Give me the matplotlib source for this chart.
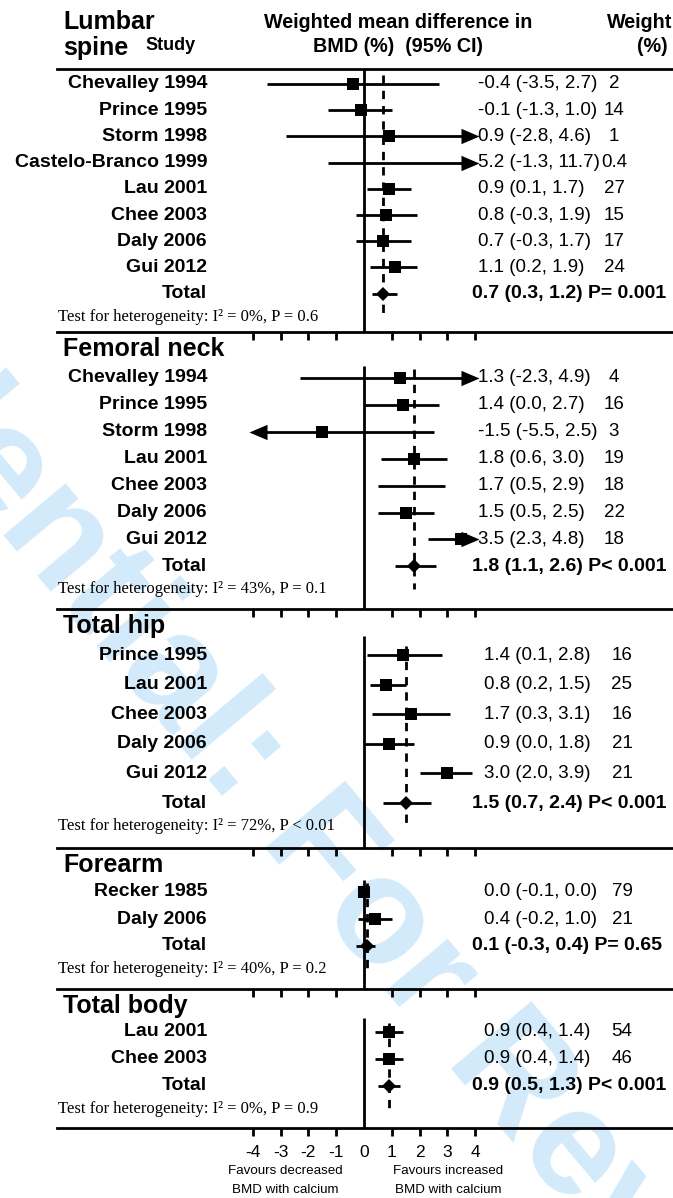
import matplotlib.pyplot as plt

# % BMD difference, 95% CI and weight for every study, by site
lumbar_studies = ['Chevalley 1994', 'Prince 1995', 'Storm 1998', 'Castelo-Branco 1999',
                  'Lau 2001', 'Chee 2003', 'Daly 2006', 'Gui 2012']
lumbar_est = [-0.4, -0.1, 0.9, 5.2, 0.9, 0.8, 0.7, 1.1]
lumbar_lo = [-3.5, -1.3, -2.8, -1.3, 0.1, -0.3, -0.3, 0.2]
lumbar_hi = [2.7, 1.0, 4.6, 11.7, 1.7, 1.9, 1.7, 1.9]
lumbar_weight = [2, 14, 1, 0.4, 27, 15, 17, 24]
lumbar_total = [0.7, 0.3, 1.2]
lumbar_p = 'P= 0.001'
lumbar_het = ['0%', 'P = 0.6']

neck_studies = ['Chevalley 1994', 'Prince 1995', 'Storm 1998', 'Lau 2001',
                'Chee 2003', 'Daly 2006', 'Gui 2012']
neck_est = [1.3, 1.4, -1.5, 1.8, 1.7, 1.5, 3.5]
neck_lo = [-2.3, 0.0, -5.5, 0.6, 0.5, 0.5, 2.3]
neck_hi = [4.9, 2.7, 2.5, 3.0, 2.9, 2.5, 4.8]
neck_weight = [4, 16, 3, 19, 18, 22, 18]
neck_total = [1.8, 1.1, 2.6]
neck_p = 'P< 0.001'
neck_het = ['43%', 'P = 0.1']

hip_studies = ['Prince 1995', 'Lau 2001', 'Chee 2003', 'Daly 2006', 'Gui 2012']
hip_est = [1.4, 0.8, 1.7, 0.9, 3.0]
hip_lo = [0.1, 0.2, 0.3, 0.0, 2.0]
hip_hi = [2.8, 1.5, 3.1, 1.8, 3.9]
hip_weight = [16, 25, 16, 21, 21]
hip_total = [1.5, 0.7, 2.4]
hip_p = 'P< 0.001'
hip_het = ['72%', 'P < 0.01']

forearm_studies = ['Recker 1985', 'Daly 2006']
forearm_est = [0.0, 0.4]
forearm_lo = [-0.1, -0.2]
forearm_hi = [0.0, 1.0]
forearm_weight = [79, 21]
forearm_total = [0.1, -0.3, 0.4]
forearm_p = 'P= 0.65'
forearm_het = ['40%', 'P = 0.2']

body_studies = ['Lau 2001', 'Chee 2003']
body_est = [0.9, 0.9]
body_lo = [0.4, 0.4]
body_hi = [1.4, 1.4]
body_weight = [54, 46]
body_total = [0.9, 0.5, 1.3]
body_p = 'P< 0.001'
body_het = ['0%', 'P = 0.9']

ticks = [-4, -3, -2, -1, 0, 1, 2, 3, 4]

plt.rcParams['axes.unicode_minus'] = False

W, H = 673, 1198
X0, UNIT = 364, 27.8       # pixel of zero, pixels per unit
LEFT = 57
CLIP = 4.15                # CIs beyond this get an arrow head
HEAD = 18 / UNIT           # arrow head length

SANS = ['Liberation Sans', 'DejaVu Sans']
SERIF = ['Liberation Serif', 'DejaVu Serif']
FS = 14


def px(p):
    return (p - X0) / UNIT


fig = plt.figure(figsize=(W / 100, H / 100), dpi=100)

fig.text(-369 / W, 1 - 91 / H, 'Confidential: For Review Only', family=SANS,
         weight='bold', fontsize=110, color='#d2eafa', rotation=-50,
         rotation_mode='anchor', ha='left', va='baseline', zorder=-1)

# title, first row y, row step, top of zero line, bottom rule, estimate x, weight x
panels = [
    ('Lumbar\nspine', lumbar_studies, lumbar_est, lumbar_lo, lumbar_hi, lumbar_weight,
     lumbar_total, lumbar_p, lumbar_het, 0, 84, 26.2, 69, 332, 478, 614),
    ('Femoral neck', neck_studies, neck_est, neck_lo, neck_hi, neck_weight,
     neck_total, neck_p, neck_het, 332, 378, 26.9, 366, 609, 478, 614),
    ('Total hip', hip_studies, hip_est, hip_lo, hip_hi, hip_weight,
     hip_total, hip_p, hip_het, 609, 655, 29.6, 636, 848, 484, 622),
    ('Forearm', forearm_studies, forearm_est, forearm_lo, forearm_hi, forearm_weight,
     forearm_total, forearm_p, forearm_het, 848, 892, 27, 880, 989, 484, 622),
    ('Total body', body_studies, body_est, body_lo, body_hi, body_weight,
     body_total, body_p, body_het, 989, 1032, 27, 1018, 1128, 484, 622),
]

# the box for this one is not drawn in the published figure
no_box = {('Femoral neck', 'Chee 2003')}

right_head = [(-1, -0.85), (1, 0), (-1, 0.85)]
left_head = [(1, -0.85), (-1, 0), (1, 0.85)]

for k, (title, studies, est, lo, hi, wt, total, ptxt, het,
        top, y0, step, ztop, sep, est_x, wt_x) in enumerate(panels):
    ax = fig.add_axes([LEFT / W, 1 - sep / H, (W - LEFT) / W, (sep - top) / H])
    ax.set_xlim(px(LEFT), px(W))
    ax.set_ylim(sep, top)
    ax.patch.set_visible(False)
    for s in ['top', 'left', 'right']:
        ax.spines[s].set_visible(False)
    ax.spines['bottom'].set_linewidth(2)
    ax.set_yticks([])
    ax.set_xticks(ticks)
    ax.tick_params(axis='x', direction='out', length=6, width=2, pad=6,
                   labelbottom=(k == len(panels) - 1), labelsize=12.5)
    ax.xaxis.get_major_ticks()[ticks.index(0)].tick1line.set_visible(False)
    for lab in ax.get_xticklabels():
        lab.set_family(SANS)

    ax.plot([0, 0], [ztop, sep], color='black', lw=2, solid_capstyle='butt')

    rows = [y0 + i * step for i in range(len(studies))]
    ytot = y0 + len(studies) * step
    yhet = ytot + 23
    ax.plot([total[0], total[0]], [y0 - 9, yhet], color='black', lw=2,
            ls=(0, (3, 2.5)))

    for name, e, l, h, w, y in zip(studies, est, lo, hi, wt, rows):
        a, b = max(l, -CLIP), min(h, CLIP)
        if h > CLIP:
            b = CLIP - HEAD / 2
        if l < -CLIP:
            a = -CLIP + HEAD / 2
        ax.plot([a, b], [y, y], color='black', lw=2, solid_capstyle='butt')
        if h > CLIP:
            ax.plot(CLIP - HEAD / 2, y, marker=right_head, ms=13, color='black', mew=0)
        if l < -CLIP:
            ax.plot(-CLIP + HEAD / 2, y, marker=left_head, ms=13, color='black', mew=0)
        if -CLIP + HEAD < e < CLIP - HEAD and (title, name) not in no_box:
            ax.plot(e, y, marker='s', ms=8, color='black', mew=0)
        ax.text(px(207), y, name, family=SANS, weight='bold', fontsize=FS,
                ha='right', va='center')
        ax.text(px(est_x), y, f'{e:.1f} ({l:.1f}, {h:.1f})', family=SANS,
                fontsize=13.5, ha='left', va='center')
        ax.text(px(wt_x), y, f'{w:g}', family=SANS, fontsize=13.5,
                ha='center', va='center')

    ax.plot([total[1], total[2]], [ytot, ytot], color='black', lw=2,
            solid_capstyle='butt')
    ax.plot(total[0], ytot, marker='D', ms=7, color='black', mew=0)
    ax.text(px(207), ytot, 'Total', family=SANS, weight='bold', fontsize=FS,
            ha='right', va='center')
    ax.text(px(472), ytot, f'{total[0]:.1f} ({total[1]:.1f}, {total[2]:.1f}) {ptxt}',
            family=SANS, weight='bold', fontsize=FS, ha='left', va='center')
    ax.text(px(58), yhet, f'Test for heterogeneity: I\u00b2 = {het[0]}, {het[1]}',
            family=SERIF, fontsize=12, ha='left', va='center')

    if k == 0:
        ax.plot([px(LEFT), px(W)], [69, 69], color='black', lw=2, clip_on=False)
        ax.text(px(63), 22, 'Lumbar', family=SANS, weight='bold', fontsize=18,
                ha='left', va='center')
        ax.text(px(63), 48, 'spine', family=SANS, weight='bold', fontsize=18,
                ha='left', va='center')
        ax.text(px(145), 45, 'Study', family=SANS, weight='bold', fontsize=13,
                ha='left', va='center')
        ax.text(px(398), 22, 'Weighted mean difference in', family=SANS,
                weight='bold', fontsize=14.2, ha='center', va='center')
        ax.text(px(398), 47, 'BMD (%)  (95% CI)', family=SANS,
                weight='bold', fontsize=14.2, ha='center', va='center')
        ax.text(px(672), 22, 'Weight', family=SANS, weight='bold',
                fontsize=14.2, ha='right', va='center')
        ax.text(px(652), 47, '(%)', family=SANS, weight='bold',
                fontsize=14.2, ha='center', va='center')
    else:
        ax.text(px(63), top + 17, title, family=SANS, weight='bold', fontsize=18,
                ha='left', va='center')

    if k == len(panels) - 1:
        ax.text(px(285), 1171, 'Favours decreased', family=SANS, fontsize=9.6,
                ha='center', va='center')
        ax.text(px(285), 1190, 'BMD with calcium', family=SANS, fontsize=9.6,
                ha='center', va='center')
        ax.text(px(448), 1171, 'Favours increased', family=SANS, fontsize=9.6,
                ha='center', va='center')
        ax.text(px(448), 1190, 'BMD with calcium', family=SANS, fontsize=9.6,
                ha='center', va='center')

fig.savefig('out.png', dpi=100)
